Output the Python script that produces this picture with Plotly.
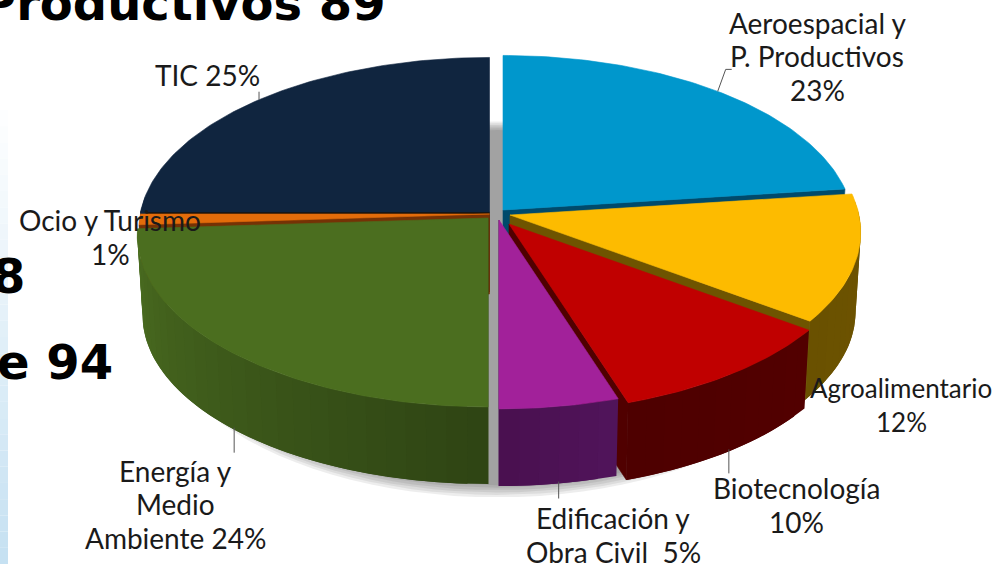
import math
import plotly.graph_objects as go

# ---- data ----
categories = ["Aeroespacial y P. Productivos", "Agroalimentario", "Biotecnología",
              "Edificación y Obra Civil", "Energía y Medio Ambiente", "Ocio y Turismo", "TIC"]
values = [23, 12, 10, 5, 24, 1, 25]
tick_labels = ["Aeroespacial y<br>P. Productivos<br>23%", "Agroalimentario<br>12%", "Biotecnología<br>10%",
               "Edificación y<br>Obra Civil  5%", "Energía y<br>Medio<br>Ambiente 24%", "Ocio y Turismo<br>1%", "TIC 25%"]

# ---- style / layout ----
top_colors = ["#0097cc", "#fdbb00", "#c00000", "#a2219a", "#4b6e1f", "#e36c0a", "#10253f"]
cut_colors = ["#004a6b", "#6e5400", "#500000", "#4d1254", "#32491a", "#753205", "#1c1208"]
wall_from = ["#004a6b", "#6e5400", "#520000", "#50145a", "#2f4514", "#753205", "#10253f"]
wall_to = ["#004a6b", "#6a5100", "#4e0000", "#4a1050", "#4a6c20", "#753205", "#10253f"]
apex = [(503, 210), (510, 215), (509, 224), (499, 220), (488, 218), (489.5, 214), (489.5, 212)]
draw_order = [6, 5, 4, 0, 1, 2, 3]
label_pos = [(817, 56), (901, 405), (796, 505), (613, 535), (175, 504), (110, 237), (207, 75)]
label_size = [28, 26, 28, 28, 28, 28, 28]
leader_len = {0: None, 2: 24, 3: 17, 4: 25, 6: -8}
A, B, K, DEPTH, SHRINK = 349, 170, 0.1, 80, 0.985
LINE_STEP = 33.5


def proj(ap, t, bottom=False):
    u, v = math.sin(t), math.cos(t)
    w = 1 / (1 + K * v)
    dx, dy = A * u * w, -B * v * w
    if bottom:
        return ap[0] + dx * SHRINK, ap[1] + dy * SHRINK + DEPTH
    return ap[0] + dx, ap[1] + dy


def hex_mix(c1, c2, f):
    a = [int(c1[i:i + 2], 16) for i in (1, 3, 5)]
    b = [int(c2[i:i + 2], 16) for i in (1, 3, 5)]
    return "rgb(%d,%d,%d)" % tuple(round(x + (y - x) * f) for x, y in zip(a, b))


fig = go.Figure()


def poly(pts, color, lw=0.6):
    xs = [p[0] for p in pts] + [pts[0][0]]
    ys = [p[1] for p in pts] + [pts[0][1]]
    fig.add_trace(go.Scatter(x=xs, y=ys, mode="lines", fill="toself", fillcolor=color,
                             line=dict(color=color, width=lw), hoverinfo="skip", showlegend=False))


# soft shadow, seen under the pie and through the central gap
SH_K = 0.178
for e in range(0, 12, 2):
    ring = []
    for d in range(0, 360, 3):
        t = math.radians(d)
        v = math.cos(t)
        w = 1 / (1 + SH_K * v)
        ring.append((497 + (A - 18 + e) * math.sin(t) * w, 276 + (172 + e) * -v * w))
    poly(ring, "rgba(0,0,0,0.07)", 0)

total = sum(values)
edges = [0]
for val in values:
    edges.append(edges[-1] + val)
ang = [e / total * 2 * math.pi for e in edges]

for i in draw_order:
    t0, t1 = ang[i], ang[i + 1]
    ap = apex[i]
    ap_b = (ap[0], ap[1] + DEPTH)
    # visible cut faces
    if t1 <= math.pi + 1e-6:
        poly([ap, proj(ap, t1), proj(ap, t1, True), ap_b], cut_colors[i])
    if t0 >= math.pi - 1e-6:
        poly([ap, proj(ap, t0), proj(ap, t0, True), ap_b], cut_colors[i])
    # outer wall in narrow overlapping strips for the shading
    lo, hi = max(t0, math.radians(85)), min(t1, math.radians(275))
    if hi > lo:
        n = max(1, int(math.degrees(hi - lo) / 3))
        step = (hi - lo) / n
        for s in range(n):
            a0 = lo + step * s
            a1 = min(hi, a0 + 2 * step)
            col = hex_mix(wall_from[i], wall_to[i], s / max(1, n - 1))
            arc = [a0 + (a1 - a0) * j / 4 for j in range(5)]
            pts = [proj(ap, a) for a in arc] + [proj(ap, a, True) for a in reversed(arc)]
            poly(pts, col, 0)
    # top face
    n = max(4, int(math.degrees(t1 - t0)))
    pts = [ap] + [proj(ap, t0 + (t1 - t0) * s / n) for s in range(n + 1)]
    poly(pts, top_colors[i])

# leader lines start from each slice's mid-angle
lead_x, lead_y = [], []
for i, ln in leader_len.items():
    tm = (ang[i] + ang[i + 1]) / 2
    if i == 0:
        x0, y0 = proj(apex[i], tm)
        lead_x += [x0, x0 + 8, x0 + 14, None]
        lead_y += [y0, y0 - 22, y0 - 22, None]
    elif i == 6:
        x0, y0 = proj(apex[i], tm)
        lead_x += [x0, x0, None]
        lead_y += [y0, y0 + ln, None]
    else:
        x0, y0 = proj(apex[i], tm, True)
        lead_x += [x0, x0, None]
        lead_y += [y0 - 2, y0 + ln - 2, None]
fig.add_trace(go.Scatter(x=lead_x, y=lead_y, mode="lines", line=dict(color="#555555", width=1),
                         hoverinfo="skip", showlegend=False))

annotations = []
for txt, (x, y), sz in zip(tick_labels, label_pos, label_size):
    parts = txt.split("<br>")
    for j, part in enumerate(parts):
        annotations.append(dict(x=x, y=y + (j - (len(parts) - 1) / 2) * LINE_STEP, xref="x", yref="y",
                                text=part.replace("  ", "\u00a0 "), showarrow=False, align="center",
                                xanchor="center", yanchor="middle",
                                font=dict(family="Lato", size=sz, color="#1a1a1a")))
heading = dict(family="DejaVu Sans", size=48, color="#000000")
for txt, x, y in [("<b>Productivos 89</b>", 388, 3), ("<b>8</b>", 27, 276), ("<b>e 94</b>", 115, 362)]:
    annotations.append(dict(x=x, y=y, xref="x", yref="y", text=txt, showarrow=False,
                            xanchor="right", yanchor="middle", font=heading))

# pale blue strip at the slide's left edge
shapes = []
steps = 28
for s in range(steps):
    y0 = 110 + (564 - 110) * s / steps
    y1 = 110 + (564 - 110) * (s + 1) / steps
    shapes.append(dict(type="rect", xref="x", yref="y", x0=0, x1=8, y0=y0, y1=y1, layer="below",
                       line=dict(width=0), fillcolor=hex_mix("#ffffff", "#c6e1f2", (s + 1) / steps)))

fig.update_layout(width=1002, height=564, autosize=False, margin=dict(l=0, r=0, t=0, b=0),
                  paper_bgcolor="white", plot_bgcolor="white", showlegend=False,
                  xaxis=dict(range=[0, 1002], visible=False, fixedrange=True),
                  yaxis=dict(range=[564, 0], visible=False, fixedrange=True),
                  annotations=annotations, shapes=shapes)
fig.write_html("out.html", config=dict(displayModeBar=False),
               post_script="document.body.style.margin='0';document.body.style.overflow='hidden';")
